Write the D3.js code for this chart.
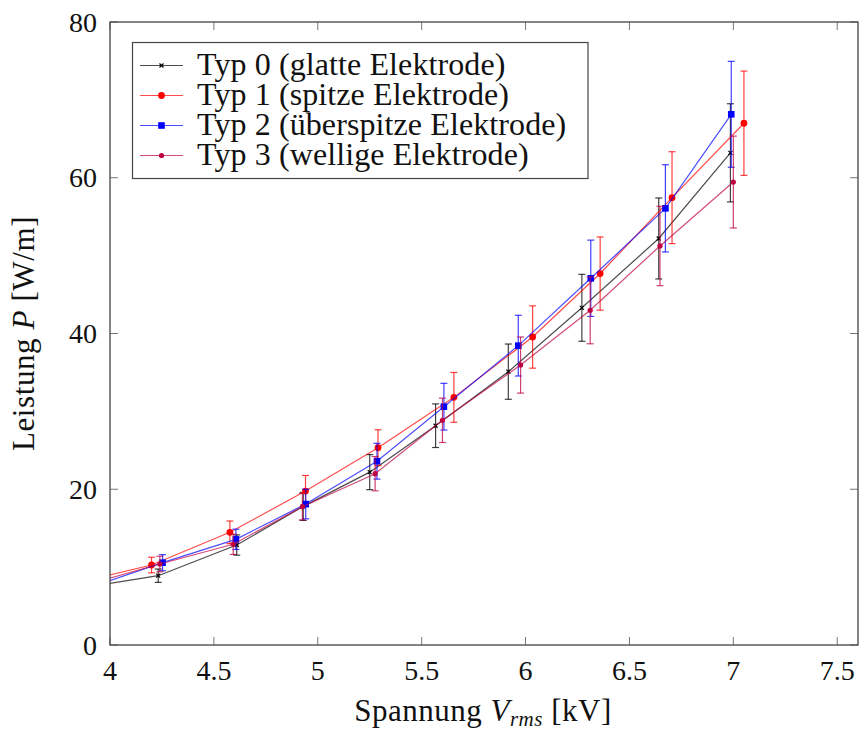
<!DOCTYPE html>
<html>
<head>
<meta charset="utf-8">
<script src="https://d3js.org/d3.v7.min.js"></script>
<style>
  body { margin: 0; background: #fff; }
</style>
</head>
<body>
<svg id="chart" width="860" height="731" font-family="'Liberation Serif', 'Times New Roman', 'DejaVu Serif', serif"></svg>
<script>
// Data (first point sits left of the axis and is clipped)
const typ0X = [3.88, 4.232, 4.61, 4.93, 5.25, 5.567, 5.917, 6.271, 6.641, 6.986];
const typ0Y = [7.41, 8.9, 12.84, 17.8, 22.2, 28.16, 35.1, 43.3, 52.2, 63.2];
const typ0E = [0.7, 0.86, 1.3, 1.8, 2.25, 2.8, 3.55, 4.3, 5.2, 6.3];

const typ1X = [3.88, 4.20, 4.577, 4.941, 5.29, 5.655, 6.034, 6.359, 6.705, 7.051];
const typ1Y = [8.24, 10.27, 14.47, 19.77, 25.34, 31.8, 39.55, 47.7, 57.44, 67.0];
const typ1E = [0.8, 1.0, 1.45, 2.0, 2.3, 3.2, 4.0, 4.7, 5.9, 6.7];

const typ2X = [3.88, 4.253, 4.606, 4.942, 5.285, 5.607, 5.965, 6.314, 6.673, 6.99];
const typ2Y = [7.17, 10.57, 13.57, 18.1, 23.6, 30.6, 38.44, 47.09, 56.07, 68.15];
const typ2E = [0.8, 1.03, 1.3, 1.9, 2.3, 3.0, 3.9, 4.9, 5.6, 6.8];

const typ3X = [3.88, 4.24, 4.593, 4.926, 5.276, 5.60, 5.976, 6.311, 6.647, 7.0];
const typ3Y = [7.7, 10.4, 12.93, 17.76, 22.0, 28.85, 35.95, 42.98, 51.24, 59.45];
const typ3E = [0.8, 1.0, 1.3, 1.7, 2.2, 2.85, 3.6, 4.3, 5.1, 5.9];

const xTicks = [4, 4.5, 5, 5.5, 6, 6.5, 7, 7.5];
const yTicks = [0, 20, 40, 60, 80];

const seriesNames = ["Typ 0 (glatte Elektrode)", "Typ 1 (spitze Elektrode)",
                     "Typ 2 (überspitze Elektrode)", "Typ 3 (wellige Elektrode)"];

const series = [
  { name: seriesNames[0], xs: typ0X, ys: typ0Y, es: typ0E, color: "#000", mark: "x" },
  { name: seriesNames[1], xs: typ1X, ys: typ1Y, es: typ1E, color: "#ff0000", mark: "circle" },
  { name: seriesNames[2], xs: typ2X, ys: typ2Y, es: typ2E, color: "#0000ff", mark: "square" },
  { name: seriesNames[3], xs: typ3X, ys: typ3Y, es: typ3E, color: "#bf0040", mark: "dot" }
];

const svg = d3.select("#chart");
const margin = { left: 110, right: 2, top: 22, bottom: 86 };
const width = 860, height = 731;

const x = d3.scaleLinear().domain([4, 7.6]).range([margin.left, width - margin.right]);
const y = d3.scaleLinear().domain([0, 80]).range([height - margin.bottom, margin.top]);

svg.append("clipPath").attr("id", "clip")
  .append("rect")
  .attr("x", x(4)).attr("y", y(80))
  .attr("width", x(7.6) - x(4)).attr("height", y(0) - y(80));

// ticks (inward, on all four sides)
const tickLen = 8;
const frameColor = "#444";
const tk = svg.append("g").attr("stroke", "#777").attr("stroke-width", 1);
xTicks.forEach(t => {
  tk.append("line").attr("x1", x(t)).attr("x2", x(t)).attr("y1", y(0)).attr("y2", y(0) - tickLen);
  tk.append("line").attr("x1", x(t)).attr("x2", x(t)).attr("y1", y(80)).attr("y2", y(80) + tickLen);
});
yTicks.forEach(t => {
  tk.append("line").attr("x1", x(4)).attr("x2", x(4) + tickLen).attr("y1", y(t)).attr("y2", y(t));
  tk.append("line").attr("x1", x(7.6)).attr("x2", x(7.6) - tickLen).attr("y1", y(t)).attr("y2", y(t));
});

// tick labels
svg.append("g").selectAll("text").data(xTicks).join("text")
  .attr("x", d => x(d)).attr("y", y(0) + 35)
  .attr("text-anchor", "middle").attr("font-size", 28).attr("fill", "#111")
  .text(d => d);
svg.append("g").selectAll("text").data(yTicks).join("text")
  .attr("x", x(4) - 13).attr("y", d => y(d) + 9.5)
  .attr("text-anchor", "end").attr("font-size", 28).attr("fill", "#111")
  .text(d => d);

// axis titles
const xl = svg.append("text").attr("x", 483).attr("y", 721)
  .attr("text-anchor", "middle").attr("font-size", 31).attr("letter-spacing", 0.5).attr("fill", "#111");
xl.append("tspan").text("Spannung ");
xl.append("tspan").attr("font-style", "italic").text("V");
xl.append("tspan").attr("font-style", "italic").attr("font-size", 21).attr("dy", 5).text("rms");
xl.append("tspan").attr("dy", -5).text(" [kV]");

const yl = svg.append("text")
  .attr("transform", `translate(34, ${(y(0) + y(80)) / 2}) rotate(-90)`)
  .attr("text-anchor", "middle").attr("font-size", 31).attr("letter-spacing", 0.6).attr("fill", "#111");
yl.append("tspan").text("Leistung ");
yl.append("tspan").attr("font-style", "italic").text("P");
yl.append("tspan").text(" [W/m]");

// marks
function drawMark(g, mark, cx, cy, color) {
  if (mark === "circle") {
    g.append("circle").attr("cx", cx).attr("cy", cy).attr("r", 3.4).attr("fill", color);
  } else if (mark === "square") {
    g.append("rect").attr("x", cx - 3.3).attr("y", cy - 3.3).attr("width", 6.6).attr("height", 6.6).attr("fill", color);
  } else if (mark === "dot") {
    g.append("circle").attr("cx", cx).attr("cy", cy).attr("r", 2.6).attr("fill", color);
  } else {
    const s = 2.0;
    g.append("path").attr("d", `M${cx - s},${cy - s}L${cx + s},${cy + s}M${cx - s},${cy + s}L${cx + s},${cy - s}`)
      .attr("stroke", color).attr("stroke-width", 1.2);
  }
}

const plot = svg.append("g").attr("clip-path", "url(#clip)");
const line = d3.line().x(d => x(d[0])).y(d => y(d[1]));

series.forEach(s => {
  const pts = s.xs.map((v, i) => [v, s.ys[i], s.es[i]]);
  const g = plot.append("g");
  g.append("path").datum(pts).attr("d", line)
    .attr("fill", "none").attr("stroke", s.color)
    .attr("stroke-opacity", 0.7).attr("stroke-width", 1.2);
  const eb = g.append("g").attr("stroke", s.color).attr("stroke-opacity", 0.75).attr("stroke-width", 1.2);
  pts.forEach(p => {
    const px = x(p[0]), top = y(p[1] + p[2]), bot = y(p[1] - p[2]);
    eb.append("line").attr("x1", px).attr("x2", px).attr("y1", top).attr("y2", bot);
    eb.append("line").attr("x1", px - 3.5).attr("x2", px + 3.5).attr("y1", top).attr("y2", top);
    eb.append("line").attr("x1", px - 3.5).attr("x2", px + 3.5).attr("y1", bot).attr("y2", bot);
  });
  pts.forEach(p => drawMark(g, s.mark, x(p[0]), y(p[1]), s.color));
});

// frame
svg.append("rect")
  .attr("x", x(4)).attr("y", y(80))
  .attr("width", x(7.6) - x(4)).attr("height", y(0) - y(80))
  .attr("fill", "none").attr("stroke", frameColor).attr("stroke-width", 1.3);

// legend
const lg = svg.append("g");
lg.append("rect").attr("x", 132.5).attr("y", 42.5).attr("width", 455.5).attr("height", 136)
  .attr("fill", "#fff").attr("stroke", frameColor).attr("stroke-width", 1.2);
series.forEach((s, i) => {
  const ly = 65.5 + i * 30;
  lg.append("line").attr("x1", 140).attr("x2", 183).attr("y1", ly).attr("y2", ly)
    .attr("stroke", s.color).attr("stroke-opacity", 0.7).attr("stroke-width", 1.2);
  drawMark(lg, s.mark, 161.5, ly, s.color);
  lg.append("text").attr("x", 197).attr("y", ly + 9.5).attr("font-size", 32).attr("letter-spacing", 0.1)
    .attr("fill", "#111").text(s.name);
});
</script>
</body>
</html>
